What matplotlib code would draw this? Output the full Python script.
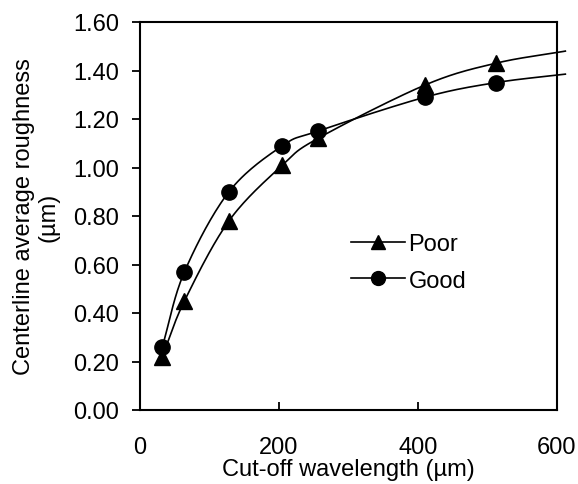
import numpy as np
import matplotlib
matplotlib.use("Agg")
import matplotlib.pyplot as plt
from matplotlib.lines import Line2D

plt.rcParams['font.family'] = ['Liberation Sans', 'DejaVu Sans']

cutoff = [32, 64, 128, 205, 256, 410, 512]
poor = [0.22, 0.45, 0.78, 1.01, 1.12, 1.34, 1.43]
good = [0.26, 0.57, 0.90, 1.09, 1.15, 1.29, 1.35]
# continuation of the curves past the right edge of the plot
line_end_x = 612
poor_end = 1.48
good_end = 1.385

xticks = [0, 200, 400, 600]
yticks = [0.0, 0.2, 0.4, 0.6, 0.8, 1.0, 1.2, 1.4, 1.6]


def smooth(xs, ys, n=30):
    xs = np.asarray(xs, float); ys = np.asarray(ys, float)
    px = np.concatenate([[2 * xs[0] - xs[1]], xs, [2 * xs[-1] - xs[-2]]])
    py = np.concatenate([[2 * ys[0] - ys[1]], ys, [2 * ys[-1] - ys[-2]]])
    ox, oy = [], []
    for i in range(1, len(px) - 2):
        t = np.linspace(0, 1, n)
        b0x, b0y = px[i], py[i]
        b3x, b3y = px[i + 1], py[i + 1]
        b1x = px[i] + (px[i + 1] - px[i - 1]) / 6
        b1y = py[i] + (py[i + 1] - py[i - 1]) / 6
        b2x = px[i + 1] - (px[i + 2] - px[i]) / 6
        b2y = py[i + 1] - (py[i + 2] - py[i]) / 6
        bx = (1 - t) ** 3 * b0x + 3 * (1 - t) ** 2 * t * b1x + 3 * (1 - t) * t ** 2 * b2x + t ** 3 * b3x
        by = (1 - t) ** 3 * b0y + 3 * (1 - t) ** 2 * t * b1y + 3 * (1 - t) * t ** 2 * b2y + t ** 3 * b3y
        ox.extend(bx); oy.extend(by)
    return np.array(ox), np.array(oy)


FS = 17

fig = plt.figure(figsize=(5.78, 4.85), dpi=100)
ax = fig.add_axes([140 / 578, 1 - 411 / 485, (557 - 140) / 578, (411 - 23) / 485])

for ys, end, mk in [(poor, poor_end, '^'), (good, good_end, 'o')]:
    lx, ly = smooth(cutoff + [line_end_x], ys + [end])
    ax.plot(lx, ly, color='black', lw=1.2, clip_on=False, zorder=2)
    ax.plot(cutoff, ys, linestyle='none', marker=mk, color='black', ms=11, zorder=3)

ax.set_xlim(0, 600)
ax.set_ylim(0, 1.6)
ax.set_xticks(xticks)
ax.set_xticklabels([str(v) for v in xticks])
ax.set_yticks(yticks)
ax.set_yticklabels([f"{v:.2f}" for v in yticks])
ax.tick_params(axis='x', direction='in', length=6, width=1.3, labelsize=FS, pad=19)
ax.tick_params(axis='y', direction='out', length=6, width=1.3, labelsize=FS, pad=9)
for s in ax.spines.values():
    s.set_linewidth(1.5)

ax.set_xlabel("Cut-off wavelength (µm)", fontsize=FS, labelpad=0)
ax.set_ylabel("Centerline average roughness\n(µm)", fontsize=FS, labelpad=10, linespacing=1.15)

handles = [Line2D([], [], color='black', lw=1.2, marker='^', ms=10),
           Line2D([], [], color='black', lw=1.2, marker='o', ms=10)]
ax.legend(handles, ['Poor', 'Good'], loc='upper left', bbox_to_anchor=(0.505, 0.455),
          frameon=False, fontsize=FS, handlelength=2.3, handletextpad=0.15,
          labelspacing=0.6, borderpad=0, borderaxespad=0)

fig.savefig('out.png', dpi=100)
